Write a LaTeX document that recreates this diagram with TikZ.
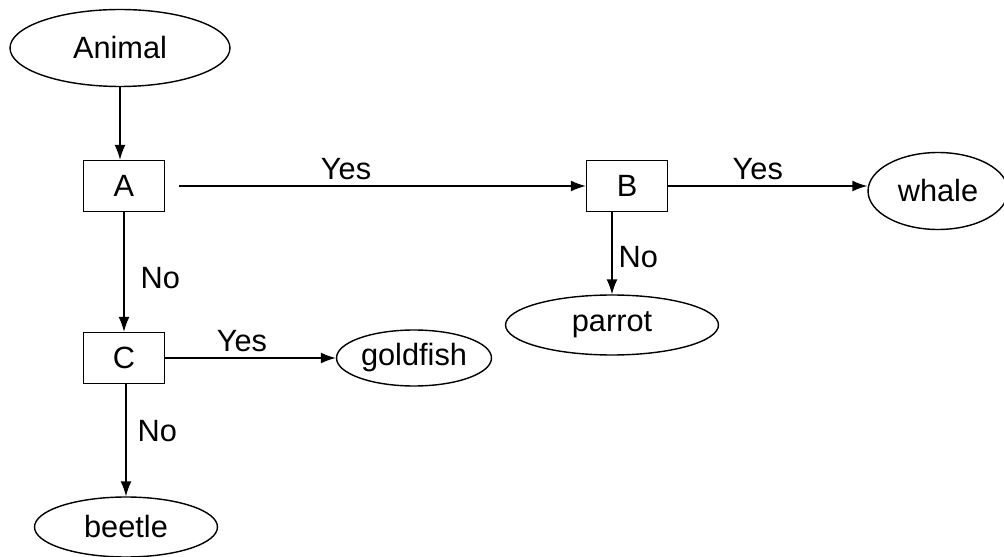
\documentclass[tikz,border=0pt]{standalone}
\usepackage{fontspec}
\setmainfont{Liberation Sans}
\usepackage{tikz}
\usetikzlibrary{shapes.geometric}
\usetikzlibrary{arrows.meta}
\tikzset{
  Frage/.style={draw, rectangle, minimum width=1.62cm, minimum height=1.02cm, inner sep=0pt}, % Entscheidungen
  Tier/.style={draw, ellipse, inner sep=0pt}, % Ergebnisse
  Pfeil/.style={->, shorten <=#1} % Verbindungen
}

\begin{document}
\begin{tikzpicture}[
x=0.02cm, y=-0.02cm,
line width=0.8pt,
font=\fontsize{17.5}{20}\selectfont,
>={Latex[length=3mm,width=2.2mm]} % Pfeilspitzen
]
\useasboundingbox (0,0) rectangle (1004,557);

%Knoten
\node[Tier, minimum width=4.4cm, minimum height=1.54cm] (Animal) at (120,48) {Animal};
\node[Frage] (A) at (124,186) {A};
\node[Frage] (B) at (627,186) {B};
\node[Frage] (C) at (124,358) {C};
\node[Tier, minimum width=2.8cm, minimum height=1.54cm] (whale) at (938,191) {whale};
\node[Tier, minimum width=4.26cm, minimum height=1.2cm] (parrot) at (612,325) {parrot};
\node[Tier, minimum width=3.1cm, minimum height=1.12cm] (goldfish) at (414,358) {goldfish};
\node[Tier, minimum width=3.66cm, minimum height=1.2cm] (beetle) at (126,527) {beetle};

%Verbindungen
\draw[Pfeil=0pt] (Animal) -- (Animal |- A.north);
\draw[Pfeil=0.28cm] (A) -- node[pos=0.43, above]{Yes} (B);
\draw[Pfeil=0pt] (B.east) -- node[pos=0.45, above]{Yes} (whale.west |- B.east);
\draw[Pfeil=0pt] (A) -- node[pos=0.55, right, xshift=2mm]{No} (C);
\draw[Pfeil=0pt] (parrot.north |- B.south) -- node[pos=0.55, right]{No} (parrot);
\draw[Pfeil=0pt] (C) -- node[pos=0.45, above]{Yes} (goldfish);
\draw[Pfeil=0pt] (C.south -| beetle.north) -- node[pos=0.42, right, xshift=1mm]{No} (beetle);

\end{tikzpicture}
\end{document}
